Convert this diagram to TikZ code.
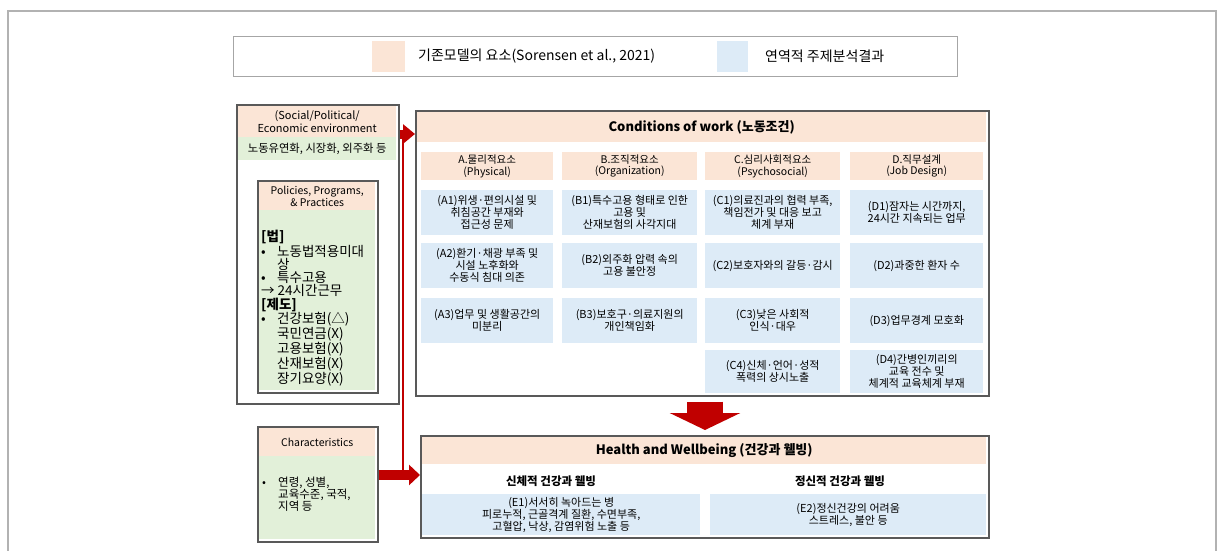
\documentclass[tikz,border=0pt]{standalone}
\usepackage{fontspec}
\setmainfont{Noto Sans CJK KR}
\usetikzlibrary{arrows.meta,calc}
\definecolor{orng}{HTML}{FBE5D6}
\definecolor{blu}{HTML}{DDEBF7}
\definecolor{grn}{HTML}{E2F0D9}
\definecolor{bord}{HTML}{595959}
\definecolor{arrred}{HTML}{C00000}
\newcommand{\bl}{\makebox[16pt][l]{•}}
\newcommand{\ind}{\makebox[16pt][l]{}}
\begin{document}
\begin{tikzpicture}[x=1pt,y=-1pt,
  frame/.style={draw=bord, line width=1.6pt, fill=white, inner sep=0pt, anchor=north west},
  band/.style={inner sep=0pt, anchor=north west, align=center},
  ohead/.style={band, fill=orng},
  gband/.style={band, fill=grn},
  cell/.style={band, fill=blu, font=\fontsize{11}{12}\selectfont},
  colhead/.style={band, fill=orng, font=\fontsize{10.5}{11.5}\selectfont},
  bigtitle/.style={font=\fontsize{13}{15}\selectfont\bfseries},
  redarrow/.style={draw=arrred, color=arrred}
]
\useasboundingbox (0,0) rectangle (1218,551);
\draw[draw=black!30, line width=1.5pt] (8,11) rectangle (1216,580);

% legend
\node[draw=black!35, line width=1pt, inner sep=0pt, anchor=north west, minimum width=724pt, minimum height=40pt] (legend) at (233,36) {};
\node[fill=orng, inner sep=0pt, anchor=north west, minimum width=33pt, minimum height=31pt] (sw1) at (372,41) {};
\node[anchor=west, inner sep=0pt, font=\fontsize{14}{16}\selectfont] (lt1) at (418,56) {기존모델의 요소(Sorensen et al., 2021)};
\node[fill=blu, inner sep=0pt, anchor=north west, minimum width=31pt, minimum height=31pt] (sw2) at (717,41) {};
\node[anchor=west, inner sep=0pt, font=\fontsize{14}{16}\selectfont] (lt2) at (765,56) {연역적 주제분석결과};

% left: environment
\node[frame, minimum width=162pt, minimum height=299pt] (env) at (236,104) {};
\node[ohead, minimum width=158pt, minimum height=31pt, font=\fontsize{11}{12.5}\selectfont] (envh) at (238,106) {(Social/Political/\\Economic environment};
\node[gband, minimum width=158pt, minimum height=23pt, font=\fontsize{11.3}{12}\selectfont] (envg) at (238,137) {노동유연화, 시장화, 외주화 등};

\node[frame, minimum width=120pt, minimum height=212pt] (pol) at (257,180) {};
\node[ohead, minimum width=116pt, minimum height=28pt, font=\fontsize{10.5}{12.5}\selectfont] (polh) at (259,182) {Policies, Programs,\\\& Practices};
\node[gband, minimum width=116pt, minimum height=180pt] (polg) at (259,210) {};
\node[anchor=north west, inner sep=0pt, align=left, font=\fontsize{13.5}{13.3}\selectfont] (poltext) at (261,230) {%
\textbf{[법]}\\
\bl 노동법적용미대\\
\ind 상\\
\bl 특수고용\\
→ 24시간근무\\
\textbf{[제도]}\\
\bl 건강보험(△)\\
\ind 국민연금(X)\\
\ind 고용보험(X)\\
\ind 산재보험(X)\\
\ind 장기요양(X)};

% left: characteristics
\node[frame, minimum width=120pt, minimum height=115pt] (char) at (257,426) {};
\node[ohead, minimum width=116pt, minimum height=28pt, font=\fontsize{10.5}{12.5}\selectfont] (charh) at (259,428) {Characteristics};
\node[gband, minimum width=116pt, minimum height=83pt] (charg) at (259,456) {};
\node[anchor=north west, inner sep=0pt, align=left, font=\fontsize{11.5}{12}\selectfont] (chartext) at (262,477) {%
\bl 연령, 성별,\\
\ind 교육수준, 국적,\\
\ind 지역 등};

% conditions of work
\node[frame, minimum width=573pt, minimum height=285pt] (cond) at (415,110) {};
\node[ohead, minimum width=569pt, minimum height=30pt, bigtitle] (condh) at (417,112) {Conditions of work (노동조건)};

\node[colhead, minimum width=132pt, minimum height=28pt] (ha) at (421,152) {A.물리적요소\\(Physical)};
\node[colhead, minimum width=135pt, minimum height=28pt] (hb) at (562,152) {B.조직적요소\\(Organization)};
\node[colhead, minimum width=135pt, minimum height=28pt] (hc) at (705,152) {C.심리사회적요소\\(Psychosocial)};
\node[colhead, minimum width=133pt, minimum height=28pt] (hd) at (850,152) {D.직무설계\\(Job Design)};

\node[cell, minimum width=132pt, minimum height=45pt] (a1) at (421,190) {(A1)위생·편의시설 및\\취침공간 부재와\\접근성 문제};
\node[cell, minimum width=135pt, minimum height=45pt] (b1) at (562,190) {(B1)특수고용 형태로 인한\\고용 및\\산재보험의 사각지대};
\node[cell, minimum width=135pt, minimum height=45pt] (c1) at (705,190) {(C1)의료진과의 협력 부족,\\책임전가 및 대응 보고\\체계 부재};
\node[cell, minimum width=133pt, minimum height=45pt] (d1) at (850,190) {(D1)잠자는 시간까지,\\24시간 지속되는 업무};

\node[cell, minimum width=132pt, minimum height=45pt] (a2) at (421,243) {(A2)환기·채광 부족 및\\시설 노후화와\\수동식 침대 의존};
\node[cell, minimum width=135pt, minimum height=45pt] (b2) at (562,243) {(B2)외주화 압력 속의\\고용 불안정};
\node[cell, minimum width=135pt, minimum height=45pt] (c2) at (705,243) {(C2)보호자와의 갈등·감시};
\node[cell, minimum width=133pt, minimum height=45pt] (d2) at (850,243) {(D2)과중한 환자 수};

\node[cell, minimum width=132pt, minimum height=45pt] (a3) at (421,298) {(A3)업무 및 생활공간의\\미분리};
\node[cell, minimum width=135pt, minimum height=45pt] (b3) at (562,298) {(B3)보호구·의료지원의\\개인책임화};
\node[cell, minimum width=135pt, minimum height=45pt] (c3) at (705,298) {(C3)낮은 사회적\\인식·대우};
\node[cell, minimum width=133pt, minimum height=45pt] (d3) at (850,298) {(D3)업무경계 모호화};

\node[cell, minimum width=135pt, minimum height=43pt] (c4) at (705,350) {(C4)신체·언어·성적\\폭력의 상시노출};
\node[cell, minimum width=133pt, minimum height=43pt] (d4) at (850,350) {(D4)간병인끼리의\\교육 전수 및\\체계적 교육체계 부재};

% health and wellbeing
\node[frame, minimum width=568pt, minimum height=102pt] (health) at (420,435) {};
\node[ohead, minimum width=564pt, minimum height=27pt, bigtitle] (healthh) at (422,437) {Health and Wellbeing (건강과 웰빙)};
\node[font=\fontsize{11.5}{13}\selectfont\bfseries, inner sep=0pt] (sub1) at (551,481) {신체적 건강과 웰빙};
\node[font=\fontsize{11.5}{13}\selectfont\bfseries, inner sep=0pt] (sub2) at (840,481) {정신적 건강과 웰빙};
\node[cell, minimum width=278pt, minimum height=41pt, font=\fontsize{11}{11.8}\selectfont] (e1) at (422,494) {(E1)서서히 녹아드는 병\\피로누적, 근골격계 질환, 수면부족,\\고혈압, 낙상, 감염위험 노출 등};
\node[cell, minimum width=276pt, minimum height=41pt, font=\fontsize{11}{11.8}\selectfont] (e2) at (710,494) {(E2)정신건강의 어려움\\스트레스, 불안 등};

% connectors
\coordinate (j1) at (403,134);
\coordinate (j2) at (403,475);
\coordinate (dx) at (705,400);
\draw[redarrow, line width=1.5pt] (j1) -- (j2);
\draw[redarrow, line width=9pt, -{Triangle[width=19pt,length=12pt]}] (env.east |- j1) -- (cond.west |- j1);
\draw[redarrow, line width=10pt, -{Triangle[width=20pt,length=11pt]}] (char.east |- j2) -- (health.west |- j2);
\draw[redarrow, line width=36pt, -{Triangle[width=70pt,length=17pt]}] ($(cond.south -| dx)+(0,5)$) -- ($(health.north -| dx)+(0,-5)$);
\end{tikzpicture}
\end{document}
